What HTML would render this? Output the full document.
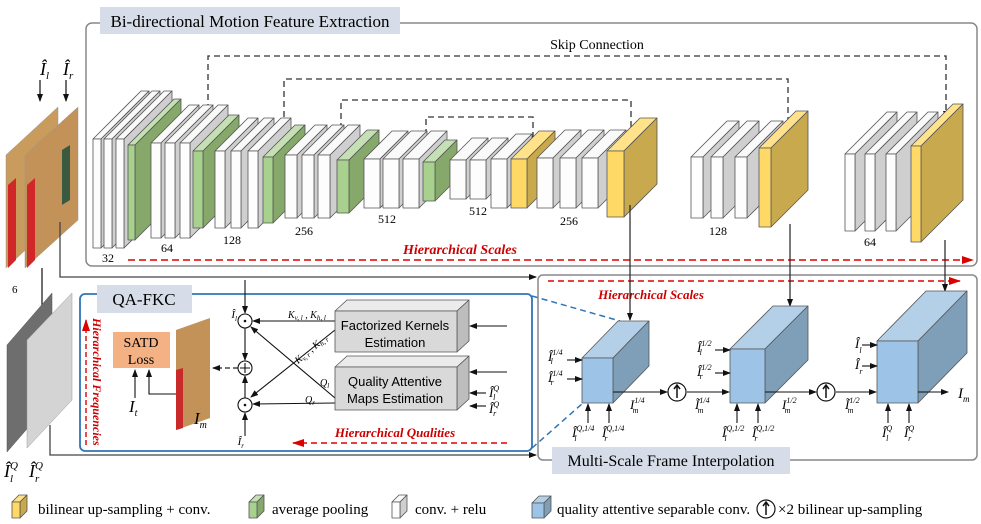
<!DOCTYPE html>
<html><head><meta charset="utf-8"><style>
body{margin:0;background:#fff}
svg{display:block;font-family:"Liberation Serif",serif}
.it{font-style:italic}
</style></head><body>
<svg id="s" width="981" height="524" viewBox="0 0 981 524" xmlns="http://www.w3.org/2000/svg">
<defs>
<marker id="a" markerWidth="8" markerHeight="8" refX="7" refY="4" orient="auto" markerUnits="userSpaceOnUse"><path d="M0,1 L8,4 L0,7z" fill="#111"/></marker>
<marker id="r" markerWidth="12" markerHeight="10" refX="11" refY="5" orient="auto" markerUnits="userSpaceOnUse"><path d="M0,1 L12,5 L0,9z" fill="#d00"/></marker>
</defs>
<rect x="86" y="23" width="891" height="243" rx="6" fill="none" stroke="#888" stroke-width="1.5"/>
<rect x="100" y="7" width="300" height="27" fill="#d6dde8"/>
<text x="250" y="27" font-size="17" text-anchor="middle">Bi-directional Motion Feature Extraction</text>
<text x="597" y="49" font-size="14" text-anchor="middle">Skip Connection</text>
<g fill="none" stroke="#333" stroke-width="1.3" stroke-dasharray="6,4">
<path d="M208,120 V56 H946 V118" marker-end="url(#a)"/>
<path d="M284,117 V79 H788 V128" marker-end="url(#a)"/>
<path d="M341,139 V100 H631 V137" marker-end="url(#a)"/>
<path d="M426,145 V117 H533 V143" marker-end="url(#a)"/>
</g>
<g id="blocks"></g>
<g font-size="12" text-anchor="middle">
<text x="108" y="262">32</text><text x="167" y="252">64</text><text x="232" y="244">128</text><text x="304" y="235">256</text><text x="387" y="223">512</text><text x="478" y="215">512</text><text x="569" y="225">256</text><text x="718" y="235">128</text><text x="870" y="246">64</text>
</g>
<text x="460" y="254" font-size="14" fill="#c00" font-weight="bold" class="it" text-anchor="middle">Hierarchical Scales</text>
<line x1="128" y1="260" x2="973" y2="260" stroke="#d00" stroke-width="1.6" stroke-dasharray="7,4" marker-end="url(#r)"/>

<polygon points="6,155 58,107 58,220 6,268" fill="#c99b5c" stroke="#999" stroke-width="0.5"/>
<polygon points="25,155 78,107 78,220 25,268" fill="#c29258" stroke="#999" stroke-width="0.5"/>
<polygon points="8,185 16,178 16,260 8,268" fill="#d02828"/>
<polygon points="27,185 35,178 35,260 27,268" fill="#d02828"/>
<polygon points="62,150 70,145 70,200 62,205" fill="#3a5a40"/>
<text x="40" y="75" font-size="18" class="it">Î<tspan font-size="11" dy="4">l</tspan></text>
<text x="63" y="75" font-size="18" class="it">Î<tspan font-size="11" dy="4">r</tspan></text>
<line x1="40" y1="80" x2="40" y2="101" stroke="#111" stroke-width="1.2" marker-end="url(#a)"/>
<line x1="66" y1="80" x2="66" y2="101" stroke="#111" stroke-width="1.2" marker-end="url(#a)"/>
<path d="M60,222 V277 H536" fill="none" stroke="#444" stroke-width="1.3" marker-end="url(#a)"/>
<line x1="42" y1="268" x2="42" y2="318" stroke="#111" stroke-width="1.2" marker-end="url(#a)"/>
<text x="12" y="293" font-size="11">6</text>
<polygon points="7,345 52,293 52,400 7,452" fill="#6e6e6e" stroke="#555" stroke-width="0.5"/>
<polygon points="27,340 72,293 72,400 27,448" fill="#d4d4d4" stroke="#999" stroke-width="0.5"/>
<path d="M50,425 V455 H536" fill="none" stroke="#444" stroke-width="1.3" marker-end="url(#a)"/>
<text x="4" y="477" font-size="18" class="it">Î<tspan font-size="11" dy="-8">Q</tspan><tspan font-size="11" dx="-8" dy="13">l</tspan></text>
<text x="29" y="477" font-size="18" class="it">Î<tspan font-size="11" dy="-8">Q</tspan><tspan font-size="11" dx="-8" dy="13">r</tspan></text>

<rect x="80" y="294" width="452" height="157" rx="5" fill="none" stroke="#2f75b6" stroke-width="1.8"/>
<rect x="97" y="285" width="95" height="28" fill="#d6dde8"/>
<text x="144" y="305" font-size="17" text-anchor="middle">QA-FKC</text>
<line x1="86" y1="445" x2="86" y2="320" stroke="#d00" stroke-width="1.4" stroke-dasharray="5,3" marker-end="url(#r)"/>
<text transform="translate(93,318) rotate(90)" font-size="12" fill="#c00" font-weight="bold" class="it">Hierarchical  Frequencies</text>
<rect x="113" y="332" width="57" height="36" fill="#f4b183"/>
<text x="141" y="347" font-size="14" text-anchor="middle">SATD</text>
<text x="141" y="364" font-size="14" text-anchor="middle">Loss</text>
<line x1="135" y1="398" x2="135" y2="370" stroke="#111" stroke-width="1.1" marker-end="url(#a)"/>
<path d="M176,394 H149 V370" fill="none" stroke="#111" stroke-width="1.1" marker-end="url(#a)"/>
<text x="129" y="412" font-size="17" class="it">I<tspan font-size="10" dy="4">t</tspan></text>
<polygon points="176,330 210,318 210,418 176,430" fill="#c29258"/>
<polygon points="176,370 183,368 183,428 176,430" fill="#c82a2a"/>
<text x="194" y="424" font-size="17" class="it">I<tspan font-size="10" dy="4">m</tspan></text>
<line x1="238" y1="368" x2="213" y2="368" stroke="#222" stroke-width="1.2" stroke-dasharray="5,3" marker-end="url(#a)"/>
<g fill="#fff" stroke="#111" stroke-width="1.1">
<circle cx="245" cy="321" r="7"/><circle cx="245" cy="368" r="7"/><circle cx="245" cy="405" r="7"/>
</g>
<g fill="#111"><circle cx="245" cy="321" r="1.3"/><circle cx="245" cy="405" r="1.3"/></g>
<path d="M245,363 V373 M240,368 H250" stroke="#111" stroke-width="1.1"/>
<text x="237" y="318" font-size="11" class="it" text-anchor="end">Î<tspan font-size="7" dy="3">l</tspan></text>
<text x="244" y="445" font-size="11" class="it" text-anchor="end">Î<tspan font-size="7" dy="3">r</tspan></text>
<g stroke="#111" stroke-width="1.1" fill="none">
<line x1="245" y1="280" x2="245" y2="313" marker-end="url(#a)"/>
<line x1="245" y1="328" x2="245" y2="360" marker-end="url(#a)"/>
<line x1="245" y1="398" x2="245" y2="376" marker-end="url(#a)"/>
<line x1="245" y1="436" x2="245" y2="413" marker-end="url(#a)"/>
<line x1="335" y1="321" x2="253" y2="321" marker-end="url(#a)"/>
<line x1="335" y1="403" x2="253" y2="404" marker-end="url(#a)"/>
<line x1="335" y1="330" x2="251" y2="397" marker-end="url(#a)"/>
<line x1="335" y1="398" x2="251" y2="327" marker-end="url(#a)"/>
<line x1="507" y1="326" x2="470" y2="326" marker-end="url(#a)"/>
<line x1="507" y1="372" x2="470" y2="372" marker-end="url(#a)"/>
<line x1="486" y1="393" x2="470" y2="393" marker-end="url(#a)"/>
<line x1="486" y1="406" x2="470" y2="406" marker-end="url(#a)"/>
</g>
<g font-size="10" class="it">
<text x="288" y="318">K<tspan font-size="7" dy="2">v, l</tspan><tspan dy="-2"> , K</tspan><tspan font-size="7" dy="2">h, l</tspan></text>
<text transform="translate(298,364) rotate(-40)">K<tspan font-size="7" dy="2">v, r</tspan><tspan dy="-2"> , K</tspan><tspan font-size="7" dy="2">h, r</tspan></text>
<text x="320" y="386">Q<tspan font-size="7" dy="2">l</tspan></text>
<text x="305" y="403">Q<tspan font-size="7" dy="2">r</tspan></text>
</g>
<g id="boxes"></g>
<text x="395" y="330" font-size="13" text-anchor="middle" font-family="Liberation Sans, sans-serif">Factorized Kernels</text>
<text x="395" y="347" font-size="13" text-anchor="middle" font-family="Liberation Sans, sans-serif">Estimation</text>
<text x="395" y="386" font-size="13" text-anchor="middle" font-family="Liberation Sans, sans-serif">Quality Attentive</text>
<text x="395" y="403" font-size="13" text-anchor="middle" font-family="Liberation Sans, sans-serif">Maps Estimation</text>
<text x="489" y="397" font-size="13" class="it">Î<tspan font-size="8" dy="-6">Q</tspan><tspan font-size="8" dx="-6" dy="9">l</tspan></text>
<text x="489" y="413" font-size="13" class="it">Î<tspan font-size="8" dy="-6">Q</tspan><tspan font-size="8" dx="-6" dy="9">r</tspan></text>
<text x="395" y="437" font-size="13" fill="#c00" font-weight="bold" class="it" text-anchor="middle">Hierarchical Qualities</text>
<line x1="507" y1="443" x2="293" y2="443" stroke="#d00" stroke-width="1.5" stroke-dasharray="6,4" marker-end="url(#r)"/>
<line x1="532" y1="296" x2="620" y2="321" stroke="#2f75b6" stroke-width="1.5" stroke-dasharray="6,4"/>
<line x1="532" y1="448" x2="583" y2="403" stroke="#2f75b6" stroke-width="1.5" stroke-dasharray="6,4"/>

<rect x="538" y="275" width="439" height="185" rx="5" fill="none" stroke="#888" stroke-width="1.5"/>
<text x="651" y="299" font-size="13" fill="#c00" font-weight="bold" class="it" text-anchor="middle">Hierarchical Scales</text>
<line x1="548" y1="281" x2="960" y2="281" stroke="#d00" stroke-width="1.5" stroke-dasharray="6,4" marker-end="url(#r)"/>
<g stroke="#222" stroke-width="1.2" fill="none">
<line x1="630" y1="205" x2="630" y2="320" marker-end="url(#a)"/>
<line x1="790" y1="224" x2="790" y2="306" marker-end="url(#a)"/>
<line x1="945" y1="240" x2="945" y2="291" marker-end="url(#a)"/>
</g>
<g id="cubes"></g>
<g stroke="#111" stroke-width="1.1" fill="none">
<line x1="567" y1="360" x2="582" y2="360" marker-end="url(#a)"/>
<line x1="567" y1="379" x2="582" y2="379" marker-end="url(#a)"/>
<line x1="715" y1="350" x2="730" y2="350" marker-end="url(#a)"/>
<line x1="715" y1="373" x2="730" y2="373" marker-end="url(#a)"/>
<line x1="862" y1="345" x2="877" y2="345" marker-end="url(#a)"/>
<line x1="862" y1="366" x2="877" y2="366" marker-end="url(#a)"/>
<line x1="613" y1="392" x2="667" y2="392" marker-end="url(#a)"/>
<line x1="687" y1="392" x2="729" y2="392" marker-end="url(#a)"/>
<line x1="765" y1="392" x2="816" y2="392" marker-end="url(#a)"/>
<line x1="836" y1="392" x2="876" y2="392" marker-end="url(#a)"/>
<line x1="918" y1="392" x2="948" y2="392" marker-end="url(#a)"/>
<line x1="588" y1="423" x2="588" y2="404" marker-end="url(#a)"/>
<line x1="609" y1="423" x2="609" y2="404" marker-end="url(#a)"/>
<line x1="737" y1="423" x2="737" y2="404" marker-end="url(#a)"/>
<line x1="758" y1="423" x2="758" y2="404" marker-end="url(#a)"/>
<line x1="888" y1="423" x2="888" y2="404" marker-end="url(#a)"/>
<line x1="909" y1="423" x2="909" y2="404" marker-end="url(#a)"/>
</g>
<g fill="#fff" stroke="#111" stroke-width="1.2"><circle cx="677" cy="392" r="9"/><circle cx="826" cy="392" r="9"/></g>
<g stroke="#111" stroke-width="1.5"><path d="M677,398 V386 M674,389 L677,385 L680,389 M826,398 V386 M823,389 L826,385 L829,389" fill="none"/></g>
<g font-size="13" class="it">
<text x="548" y="361">Î<tspan font-size="8" dy="-6">1/4</tspan><tspan font-size="8" dx="-12" dy="9">l</tspan></text>
<text x="548" y="382">Î<tspan font-size="8" dy="-6">1/4</tspan><tspan font-size="8" dx="-12" dy="9">r</tspan></text>
<text x="697" y="352">Î<tspan font-size="8" dy="-6">1/2</tspan><tspan font-size="8" dx="-12" dy="9">l</tspan></text>
<text x="697" y="376">Î<tspan font-size="8" dy="-6">1/2</tspan><tspan font-size="8" dx="-12" dy="9">r</tspan></text>
<text x="855" y="348">Î<tspan font-size="8" dy="5">l</tspan></text>
<text x="855" y="369">Î<tspan font-size="8" dy="5">r</tspan></text>
<text x="630" y="409">I<tspan font-size="8" dy="-6">1/4</tspan><tspan font-size="8" dx="-12" dy="10">m</tspan></text>
<text x="695" y="409">Ĩ<tspan font-size="8" dy="-6">1/4</tspan><tspan font-size="8" dx="-12" dy="10">m</tspan></text>
<text x="782" y="409">I<tspan font-size="8" dy="-6">1/2</tspan><tspan font-size="8" dx="-12" dy="10">m</tspan></text>
<text x="845" y="409">Ĩ<tspan font-size="8" dy="-6">1/2</tspan><tspan font-size="8" dx="-12" dy="10">m</tspan></text>
<text x="958" y="398" font-size="15">I<tspan font-size="9" dy="4">m</tspan></text>
<text x="572" y="437">Î<tspan font-size="8" dy="-6">Q,1/4</tspan><tspan font-size="8" dx="-20" dy="10">l</tspan></text>
<text x="602" y="437">Î<tspan font-size="8" dy="-6">Q,1/4</tspan><tspan font-size="8" dx="-20" dy="10">r</tspan></text>
<text x="722" y="437">Î<tspan font-size="8" dy="-6">Q,1/2</tspan><tspan font-size="8" dx="-20" dy="10">l</tspan></text>
<text x="752" y="437">Î<tspan font-size="8" dy="-6">Q,1/2</tspan><tspan font-size="8" dx="-20" dy="10">r</tspan></text>
<text x="882" y="437">Î<tspan font-size="8" dy="-6">Q</tspan><tspan font-size="8" dx="-6" dy="10">l</tspan></text>
<text x="904" y="437">Î<tspan font-size="8" dy="-6">Q</tspan><tspan font-size="8" dx="-6" dy="10">r</tspan></text>
</g>
<rect x="552" y="447" width="238" height="27" fill="#d6dde8"/>
<text x="671" y="466" font-size="16" text-anchor="middle">Multi-Scale Frame Interpolation</text>

<g id="leg"></g>
<g font-size="15">
<text x="38" y="514">bilinear up-sampling + conv.</text>
<text x="272" y="514">average pooling</text>
<text x="415" y="514">conv. + relu</text>
<text x="557" y="514">quality attentive separable conv.</text>
<text x="778" y="514">×2 bilinear up-sampling</text>
</g>
<circle cx="766" cy="509" r="9" fill="#fff" stroke="#111" stroke-width="1.2"/>
<path d="M766,515 V503 M763,506 L766,502 L769,506" stroke="#111" stroke-width="1.5" fill="none"/>
</svg>
<script>
var NS="http://www.w3.org/2000/svg";
var C={w:["#fdfdfd","#cfcfcf","#fafafa"],g:["#a9d18e","#86a86a","#c5e0b4"],y:["#ffd966","#c9a94e","#ffe28a"],b:["#9dc3e6","#7f9fb8","#b4cfe8"],gr:["#d9d9d9","#bdbdbd","#ebebeb"]};
function poly(g,pts,f){var p=document.createElementNS(NS,"polygon");p.setAttribute("points",pts.map(function(a){return a.join(",")}).join(" "));p.setAttribute("fill",f);p.setAttribute("stroke","#555");p.setAttribute("stroke-width","0.8");p.setAttribute("stroke-linejoin","round");g.appendChild(p);}
function slab(g,x,y,w,h,dx,dy,c){var k=C[c];
poly(g,[[x,y],[x+dx,y-dy],[x+w+dx,y-dy],[x+w,y]],k[2]);
poly(g,[[x+w,y],[x+w+dx,y-dy],[x+w+dx,y+h-dy],[x+w,y+h]],k[1]);
poly(g,[[x,y],[x+w,y],[x+w,y+h],[x,y+h]],k[0]);}
var B=document.getElementById("blocks");
var L=[
[93,139,8,109,48,"w"],[104,139,8,109,48,"w"],[116,139,8,109,48,"w"],[128,145,7,95,46,"g"],
[151,143,10,95,38,"w"],[165,143,10,95,38,"w"],[180,143,10,95,38,"w"],[193,151,10,77,36,"g"],
[215,151,10,77,33,"w"],[231,151,10,77,33,"w"],[248,151,10,77,33,"w"],[263,157,10,66,32,"g"],
[285,155,12,63,30,"w"],[302,155,12,63,30,"w"],[318,155,12,63,30,"w"],[337,160,12,53,30,"g"],
[364,159,16,49,28,"w"],[383,159,16,49,28,"w"],[403,159,16,49,28,"w"],[423,162,12,39,22,"g"],
[450,160,16,39,22,"w"],[470,160,16,39,22,"w"],[491,159,16,49,25,"w"],[511,159,16,49,28,"y"],
[537,158,16,50,28,"w"],[560,158,16,50,28,"w"],[582,158,16,50,28,"w"],[607,151,17,66,33,"y"],
[691,157,12,61,36,"w"],[711,157,12,61,36,"w"],[735,157,12,61,36,"w"],[759,148,12,79,37,"y"],
[845,154,10,77,42,"w"],[865,154,10,77,42,"w"],[886,154,10,77,42,"w"],[911,146,10,96,42,"y"]];
L.forEach(function(a){slab(B,a[0],a[1],a[2],a[3],a[4],a[4],a[5])});
var X=document.getElementById("boxes");
slab(X,335,311,122,41,12,11,"gr");slab(X,335,367,122,43,12,11,"gr");
var Q=document.getElementById("cubes");
slab(Q,582,358,31,45,36,37,"b");slab(Q,730,349,35,54,43,43,"b");slab(Q,877,341,41,62,49,50,"b");
var G=document.getElementById("leg");
slab(G,12,502,8,16,7,7,"y");slab(G,249,502,8,16,7,7,"g");slab(G,392,502,8,16,7,7,"w");slab(G,532,503,12,15,7,7,"b");
</script>
</body></html>
